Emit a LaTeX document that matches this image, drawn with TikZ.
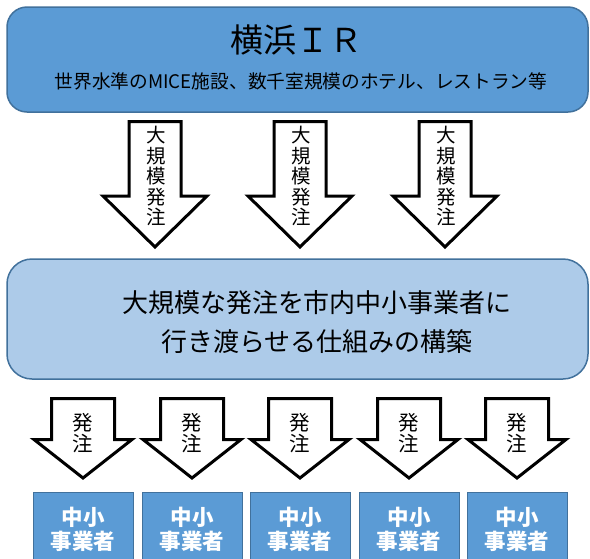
\documentclass[tikz,border=0pt]{standalone}
\usepackage{fontspec}
\setmainfont{Noto Sans CJK JP}
\definecolor{boxblue}{HTML}{5B9BD5}
\definecolor{edgeblue}{HTML}{41719C}
\definecolor{lightblue}{HTML}{ADCBE9}
\tikzset{
  topbox/.style={draw=edgeblue, line width=1.5pt, fill=boxblue, rounded corners=20pt, minimum width=581pt, minimum height=105pt, inner sep=0pt},
  midbox/.style={draw=edgeblue, line width=1.5pt, fill=lightblue, rounded corners=25pt, minimum width=581pt, minimum height=120pt, inner sep=0pt},
  smallbox/.style={draw=edgeblue, line width=1pt, fill=boxblue, minimum width=100pt, minimum height=90pt, inner sep=0pt, anchor=north},
  arrowline/.style={draw=black, line width=3pt, fill=white, line join=miter},
  bigtxt/.style={font=\fontsize{19.5}{20.5}\selectfont, align=center, inner sep=0pt},
  smalltxt/.style={font=\fontsize{20.5}{21.5}\selectfont, align=center, inner sep=0pt},
  boxtxt/.style={font=\fontsize{21.5}{24}\selectfont\bfseries, text=white, align=center, inner sep=0pt}
}
\begin{document}
\begin{tikzpicture}[x=1pt,y=-1pt]
\useasboundingbox (0,0) rectangle (590,558);
\clip (0,0) rectangle (590,558);
\fill[white] (0,0) rectangle (590,558);
% top box
\node[topbox] (ir) at (297.5,59.5) {};
\node[font=\fontsize{33}{33}\selectfont, inner sep=0pt] (title) at (296.5,40) {横浜ＩＲ};
\node[font=\fontsize{18.7}{18.7}\selectfont, inner sep=0pt] (sub) at (301,81) {世界水準のMICE施設、数千室規模のホテル、レストラン等};
% big arrows
\foreach \cx [count=\i] in {155,300,445} {
  \draw[arrowline] (\cx-26,121.5) -- (\cx+26,121.5) -- (\cx+26,196) -- (\cx+52,196) -- (\cx,247) -- (\cx-52,196) -- (\cx-26,196) -- cycle;
  \node[bigtxt] (big\i) at (\cx+1,176) {大\\規\\模\\発\\注};
}
% middle box
\node[midbox] (mid) at (297.5,319) {};
\node[font=\fontsize{26}{39}\selectfont, align=center, inner sep=0pt] (midtxt) at (317,322.5) {大規模な発注を市内中小事業者に\\行き渡らせる仕組みの構築};
% small arrows and boxes
\foreach \cx [count=\i] in {83,192,300,409,517} {
  \draw[arrowline] (\cx-31.5,398.5) -- (\cx+31.5,398.5) -- (\cx+31.5,439.5) -- (\cx+49,439.5) -- (\cx,478) -- (\cx-49,439.5) -- (\cx-31.5,439.5) -- cycle;
  \node[smalltxt] (ord\i) at (\cx,433) {発\\注};
  \node[smallbox] (sme\i) at (\cx,492) {};
  \node[boxtxt] (smetxt\i) at (\cx,529) {中小\\事業者};
}
\end{tikzpicture}
\end{document}
